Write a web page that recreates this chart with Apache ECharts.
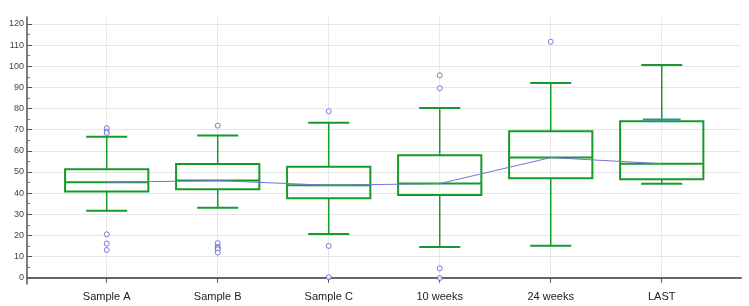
<!DOCTYPE html>
<html>
<head>
<meta charset="utf-8">
<script src="https://cdn.jsdelivr.net/npm/echarts@6/dist/echarts.min.js"></script>
<style>
  html, body { margin: 0; padding: 0; background: #fff; }
  #chart { width: 749px; height: 306px; }
</style>
</head>
<body>
<div id="chart"></div>
<script>
const categories = ['Sample A', 'Sample B', 'Sample C', '10 weeks', '24 weeks', 'LAST'];
const lowWhisker = [31.7, 33.1, 20.7, 14.5, 15.1, 44.4];
const q1 = [40.7, 41.8, 37.6, 39.1, 47.0, 46.6];
const medians = [45.1, 45.9, 43.7, 44.5, 56.8, 53.9];
const q3 = [51.3, 53.8, 52.5, 57.9, 69.3, 74.0];
const highWhisker = [66.7, 67.3, 73.3, 80.3, 92.1, 100.6];
// extra short mark seen just above the LAST box
const extraMarks = [[6, 74.8]];
const outliers = [
  [1, 70.7], [1, 69.1], [1, 68.4], [1, 20.5], [1, 16.1], [1, 13.1],
  [2, 71.9], [2, 16.3], [2, 14.6], [2, 14.0], [2, 13.4], [2, 11.9],
  [3, 78.7], [3, 15.0], [3, 0.2],
  [4, 95.7], [4, 89.6], [4, 4.4], [4, -0.2],
  [5, 111.6]
];
const yLabels = [0, 10, 20, 30, 40, 50, 60, 70, 80, 90, 100, 110, 120];
const yMinor = [5, 15, 25, 35, 45, 55, 65, 75, 85, 95, 105, 115];

const green = '#169a2c';
const blue = '#5a5ad2';
const font = "'Liberation Sans Narrow', 'Liberation Sans', Arial, sans-serif";

const boxData = categories.map((c, i) => [i + 1, lowWhisker[i], q1[i], medians[i], q3[i], highWhisker[i]]);
const catIdx = categories.map((c, i) => i + 1);

const chart = echarts.init(document.getElementById('chart'));

chart.setOption({
  backgroundColor: '#fff',
  animation: false,
  grid: { left: 27, right: 8, top: 17, bottom: 22 },
  xAxis: {
    type: 'value',
    min: 0.282,
    max: 6.714,
    axisLine: { lineStyle: { color: '#666', width: 2 } },
    axisTick: { customValues: catIdx, length: 5, lineStyle: { color: '#555' } },
    axisLabel: {
      customValues: catIdx,
      formatter: v => categories[Math.round(v) - 1] || '',
      color: '#222', fontSize: 11, fontFamily: font, margin: 7
    },
    splitLine: { show: true, lineStyle: { color: '#e8e8e8', width: 1 } }
  },
  yAxis: [{
    type: 'value',
    min: -3,
    max: 123.3,
    axisLine: { show: true, lineStyle: { color: '#555', width: 1.5 } },
    axisTick: { customValues: yLabels, inside: true, length: 5, lineStyle: { color: '#555' } },
    axisLabel: { customValues: yLabels, color: '#444', fontSize: 9, fontFamily: font, margin: 3 },
    splitLine: { show: true, lineStyle: { color: '#e6e6e6', width: 1 } }
  }, {
    type: 'value',
    min: -3,
    max: 123.3,
    position: 'left',
    axisLine: { show: false },
    axisTick: { show: true, customValues: yMinor, inside: true, length: 3, lineStyle: { color: '#777' } },
    axisLabel: { show: false },
    splitLine: { show: false }
  }],
  series: [
    {
      type: 'custom',
      data: boxData,
      z: 3,
      renderItem: (params, api) => {
        const x = api.value(0);
        const band = api.size([1, 0])[0];
        const bw = band * 0.75;
        const cw = band * 0.37;
        const pLow = api.coord([x, api.value(1)]);
        const pQ1 = api.coord([x, api.value(2)]);
        const pMed = api.coord([x, api.value(3)]);
        const pQ3 = api.coord([x, api.value(4)]);
        const pHigh = api.coord([x, api.value(5)]);
        const cx = pMed[0];
        const st = { stroke: green, lineWidth: 2, fill: null };
        return {
          type: 'group',
          children: [
            { type: 'line', shape: { x1: cx, y1: pHigh[1], x2: cx, y2: pQ3[1] }, style: { stroke: green, lineWidth: 1.5 } },
            { type: 'line', shape: { x1: cx, y1: pQ1[1], x2: cx, y2: pLow[1] }, style: { stroke: green, lineWidth: 1.5 } },
            { type: 'line', shape: { x1: cx - cw / 2, y1: pHigh[1], x2: cx + cw / 2, y2: pHigh[1] }, style: st },
            { type: 'line', shape: { x1: cx - cw / 2, y1: pLow[1], x2: cx + cw / 2, y2: pLow[1] }, style: st },
            { type: 'rect', shape: { x: cx - bw / 2, y: pQ3[1], width: bw, height: pQ1[1] - pQ3[1] }, style: st },
            { type: 'line', shape: { x1: cx - bw / 2, y1: pMed[1], x2: cx + bw / 2, y2: pMed[1] }, style: st }
          ]
        };
      }
    },
    {
      type: 'custom',
      data: extraMarks,
      z: 4,
      renderItem: (params, api) => {
        const band = api.size([1, 0])[0];
        const p = api.coord([api.value(0), api.value(1)]);
        const w = band * 0.34;
        return { type: 'line', shape: { x1: p[0] - w / 2, y1: p[1], x2: p[0] + w / 2, y2: p[1] }, style: { stroke: '#2f8fa0', lineWidth: 2 } };
      }
    },
    {
      type: 'line',
      data: medians.map((m, i) => [i + 1, m]),
      symbol: 'none',
      z: 5,
      lineStyle: { color: '#7474d8', width: 1 }
    },
    {
      type: 'scatter',
      data: outliers,
      symbol: 'circle',
      symbolSize: 5,
      z: 6,
      itemStyle: { color: '#fff', borderColor: blue, borderWidth: 1 }
    }
  ]
});
</script>
</body>
</html>
